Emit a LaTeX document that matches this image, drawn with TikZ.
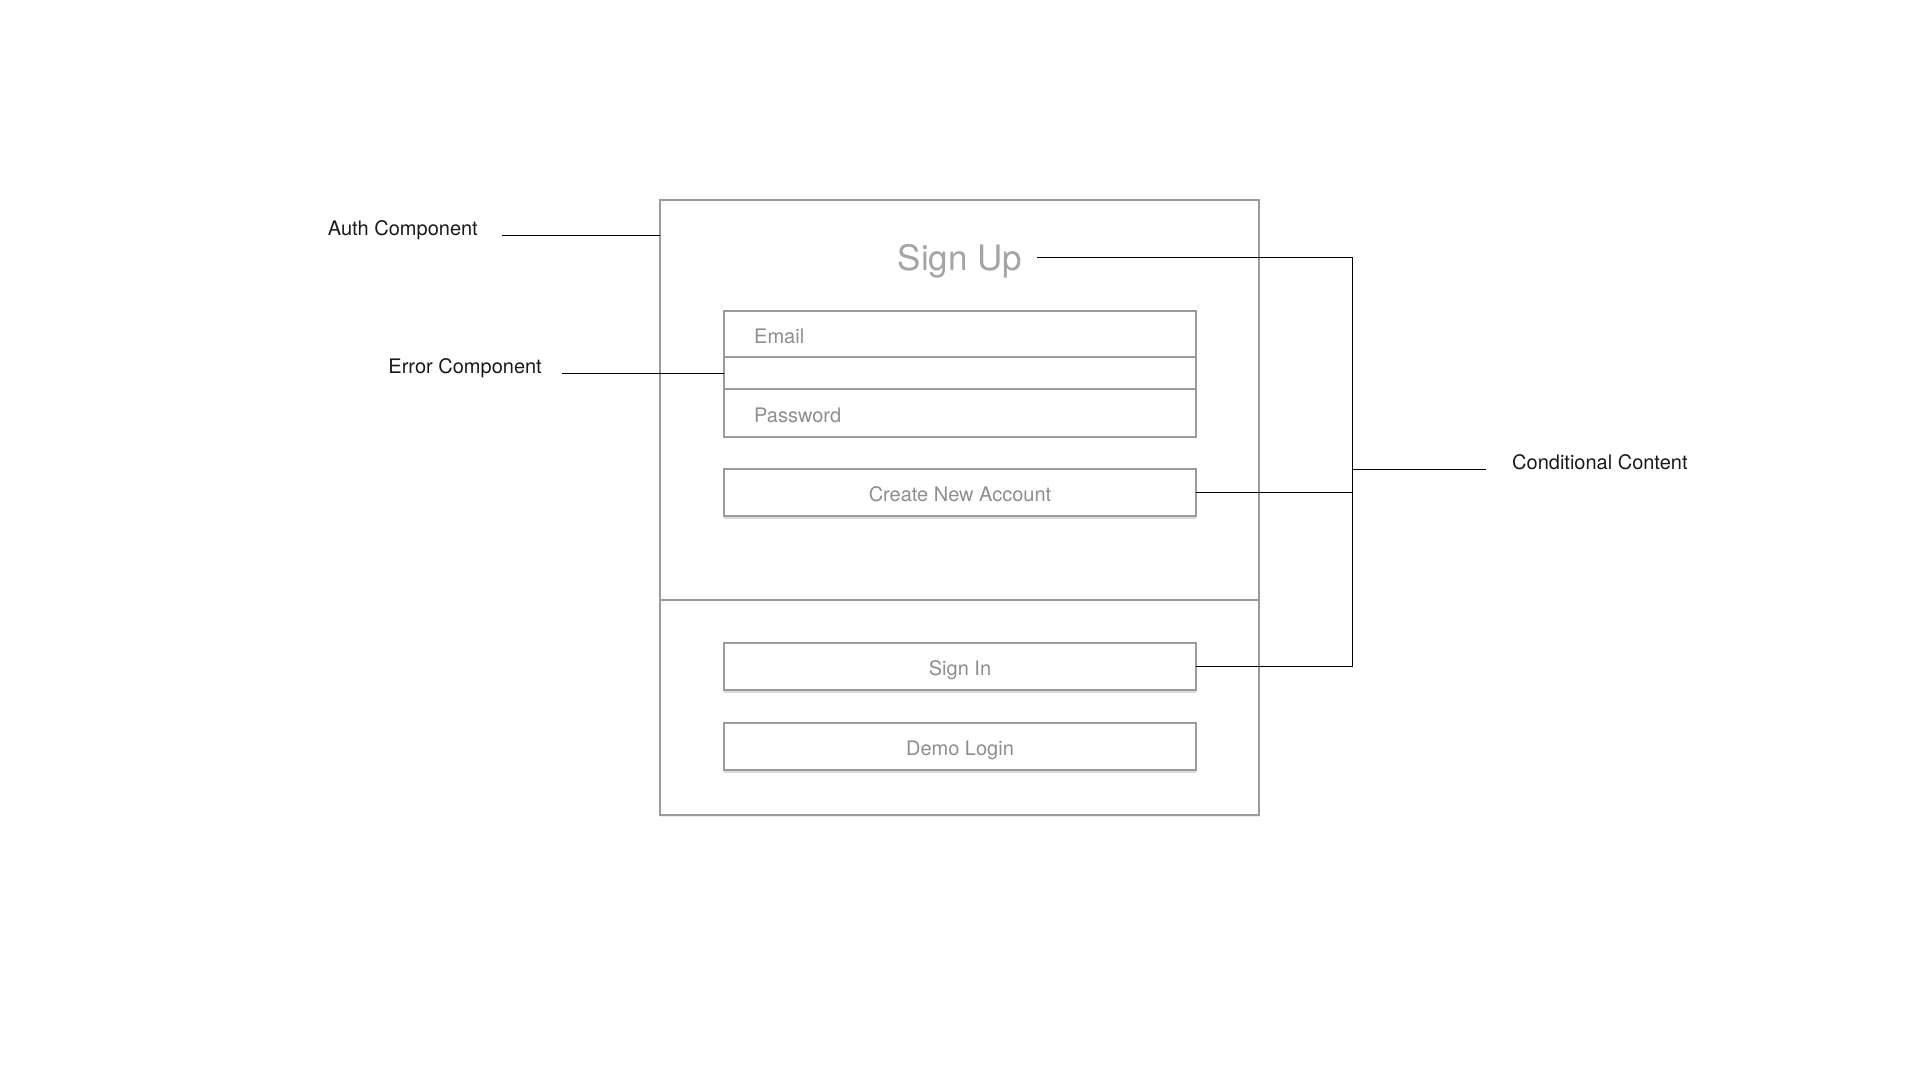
\documentclass[tikz,border=0pt]{standalone}
\usepackage{fontspec}
\setmainfont{TeX Gyre Heros}
\usetikzlibrary{positioning,shadows}
\definecolor{wfline}{HTML}{9B9B9B}
\definecolor{wftext}{HTML}{8E8E8E}
\definecolor{wftitle}{HTML}{A4A4A4}
\definecolor{wfink}{HTML}{1A1A1A}
\tikzset{
  frame/.style={draw=wfline, line width=1.4pt, fill=white, inner sep=0pt, outer sep=0pt},
  field/.style={frame, minimum width=472pt},
  button/.style={field, minimum height=47pt, text=wftext, font=\fontsize{20}{24}\selectfont,
    text height=18pt, text depth=0pt,
    drop shadow={shadow xshift=0pt, shadow yshift=-2.5pt, opacity=.15, fill=black}},
  hint/.style={text=wftext, font=\fontsize{20}{24}\selectfont, inner sep=0pt,
    text height=18pt, text depth=0pt},
  title/.style={text=wftitle, font=\fontsize{35}{42}\selectfont, inner sep=0pt,
    text height=25pt, text depth=0pt},
  lbl/.style={text=wfink, font=\fontsize{20}{24}\selectfont, inner sep=0pt},
  conn/.style={draw=black, line width=1pt},
}
\begin{document}
\begin{tikzpicture}[x=1pt, y=-1pt]
  \useasboundingbox (0,0) rectangle (1920,1080);
  % outer component
  \node[frame, minimum width=599pt, minimum height=615pt,
    drop shadow={shadow xshift=1pt, shadow yshift=-1.5pt, opacity=.08, fill=black}] (auth) at (959.5,507.5) {};
  \coordinate (split) at (960,600);
  \draw[wfline, line width=2.5pt] (auth.west |- split) -- (auth.east |- split);
  \node[title, anchor=base] (signup) at (960,270) {Sign Up};

  % form fields
  \node[field, minimum height=46pt] (email) at (960,334) {};
  \node[field, minimum height=32pt, below=0pt of email] (error) {};
  \node[field, minimum height=48pt, below=0pt of error] (password) {};
  \node[hint, right=30pt of email.west] (emailtxt) {Email};
  \node[hint, right=30pt of password.west] (passtxt) {Password};

  \node[button] (create) at (960,492.5) {Create New Account};
  \node[button] (signin) at (960,666.5) {Sign In};
  \node[button] (demo) at (960,746.5) {Demo Login};

  % labels
  \node[lbl, anchor=base east] (authlbl) at (478,235) {Auth Component};
  \node[lbl, anchor=base east] (errlbl) at (542,373) {Error Component};
  \node[lbl, anchor=base west] (condlbl) at (1512,469) {Conditional Content};

  \draw[conn] ([xshift=24]authlbl.base east) -- (auth.west |- authlbl.base);
  \draw[conn] ([xshift=20]errlbl.base east) -- (error.west);
  \coordinate (bkt) at (1352,0);
  \draw[conn] ([xshift=14]signup.east) -| (bkt |- signin.east) -- (signin.east);
  \draw[conn] (create.east) -- (create.east -| bkt);
  \draw[conn] (bkt |- condlbl.base) -- ([xshift=-26]condlbl.base west);
\end{tikzpicture}
\end{document}
